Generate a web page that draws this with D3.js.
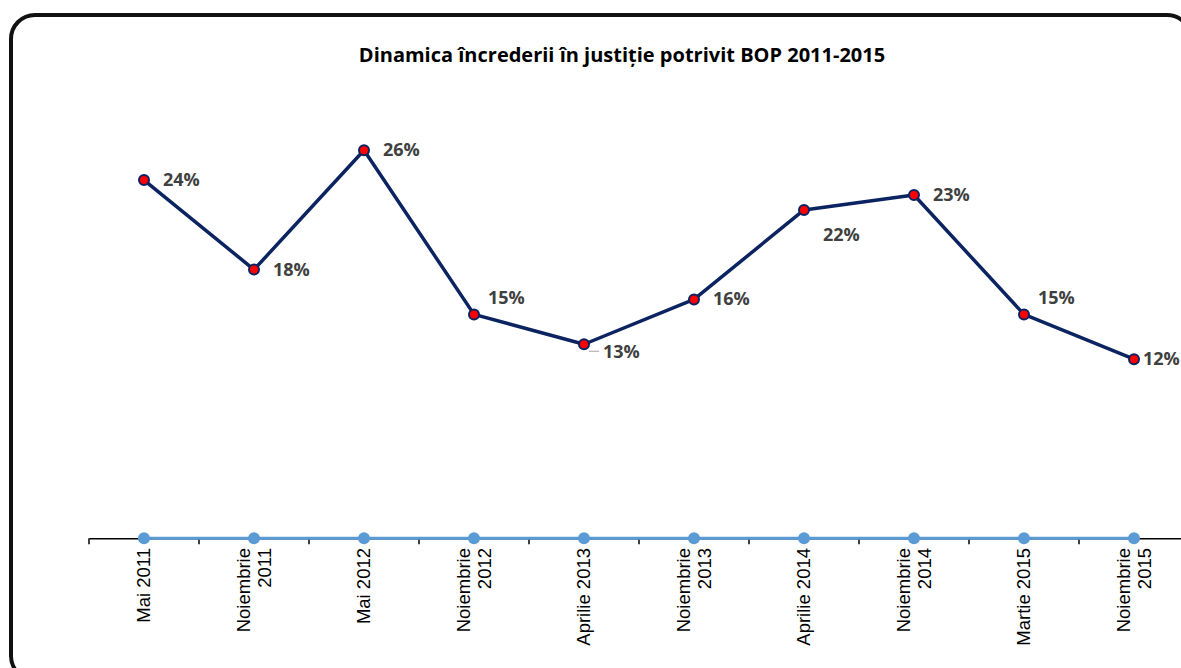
<!DOCTYPE html>
<html>
<head>
<meta charset="utf-8">
<script src="https://cdn.jsdelivr.net/npm/d3@7"></script>
<style>
  body { margin: 0; background: #fff; }
</style>
</head>
<body>
<div id="chart"></div>
<script>
// DATA
const categories = [
  ["Mai 2011"], ["Noiembrie", "2011"], ["Mai 2012"], ["Noiembrie", "2012"], ["Aprilie 2013"],
  ["Noiembrie", "2013"], ["Aprilie 2014"], ["Noiembrie", "2014"], ["Martie 2015"], ["Noiembrie", "2015"]
];
const incredere = [0.24, 0.18, 0.26, 0.15, 0.13, 0.16, 0.22, 0.23, 0.15, 0.12];
const serie2 = [0, 0, 0, 0, 0, 0, 0, 0, 0, 0];
const labelPos = ["right", "right", "right", "above", "below", "right", "below", "right", "above", "right"];

const width = 1181, height = 668;
const keys = categories.map(c => c.join(" "));

const svg = d3.select("#chart").append("svg")
  .attr("width", width)
  .attr("height", height);

// frame
svg.append("rect")
  .attr("x", 11).attr("y", 15)
  .attr("width", 1180).attr("height", 665)
  .attr("rx", 24)
  .attr("fill", "none")
  .attr("stroke", "#111")
  .attr("stroke-width", 4);

// title
svg.append("text")
  .attr("x", 622).attr("y", 62)
  .attr("text-anchor", "middle")
  .style("font-family", "'Open Sans', sans-serif")
  .style("font-size", "20px")
  .style("font-weight", "bold")
  .text("Dinamica încrederii în justiție potrivit BOP 2011-2015");

// SCALES
const x = d3.scaleBand().domain(keys).range([89, 1189]);
const y = d3.scaleLinear().domain([0, 0.30]).range([538.3, 90.5]);
const cx = (d, i) => x(keys[i]) + x.bandwidth() / 2;

// AXIS
const xAxis = d3.axisBottom(x).tickSize(0).tickFormat("");
const axisG = svg.append("g")
  .attr("transform", `translate(0, ${y(0)})`)
  .call(xAxis);
axisG.select(".domain").attr("stroke", "#000").attr("stroke-width", 1.5);

// tick marks between categories
svg.selectAll("line.tick")
  .data(d3.range(keys.length + 1))
  .join("line")
  .attr("class", "tick")
  .attr("x1", i => 89 + i * x.step())
  .attr("x2", i => 89 + i * x.step())
  .attr("y1", y(0))
  .attr("y2", y(0) + 6)
  .attr("stroke", "#000")
  .attr("stroke-width", 1.5);

// category labels (rotated)
const catG = svg.selectAll("g.cat")
  .data(categories)
  .join("g")
  .attr("class", "cat")
  .attr("transform", (d, i) => `translate(${cx(d, i)}, 548) rotate(-90)`);

catG.each(function(lines) {
  const g = d3.select(this);
  const n = lines.length;
  lines.forEach((t, j) => {
    g.append("text")
      .attr("x", 0)
      .attr("y", (j - (n - 1) / 2) * 21 + 6)
      .attr("text-anchor", "end")
      .style("font-family", "'Liberation Sans', Arial, sans-serif")
      .style("font-size", "18.5px")
      .style("fill", "#000")
      .text(t);
  });
});

// second series (zero line)
const line0 = d3.line().x((d, i) => cx(d, i)).y(d => y(d));
svg.append("path")
  .datum(serie2)
  .attr("d", line0)
  .attr("fill", "none")
  .attr("stroke", "#5b9bd5")
  .attr("stroke-width", 3);
svg.selectAll("circle.s2")
  .data(serie2)
  .join("circle")
  .attr("class", "s2")
  .attr("cx", cx)
  .attr("cy", d => y(d))
  .attr("r", 6)
  .attr("fill", "#5b9bd5");

// main series
const line = d3.line().x((d, i) => cx(d, i)).y(d => y(d));
svg.append("path")
  .datum(incredere)
  .attr("d", line)
  .attr("fill", "none")
  .attr("stroke", "#0b2360")
  .attr("stroke-width", 3.5)
  .attr("stroke-linejoin", "round");

// leader line for 13%
svg.append("line")
  .attr("x1", cx(0, 4) + 5).attr("x2", cx(0, 4) + 15)
  .attr("y1", y(incredere[4]) + 7).attr("y2", y(incredere[4]) + 7)
  .attr("stroke", "#a6a6a6").attr("stroke-width", 1);

svg.selectAll("circle.s1")
  .data(incredere)
  .join("circle")
  .attr("class", "s1")
  .attr("cx", cx)
  .attr("cy", d => y(d))
  .attr("r", 5)
  .attr("fill", "#ff0000")
  .attr("stroke", "#0b2360")
  .attr("stroke-width", 2);

// data labels
const off = {
  right: [19, 6],
  above: [14, -10],
  below: [19, 14]
};
svg.selectAll("text.lbl")
  .data(incredere)
  .join("text")
  .attr("class", "lbl")
  .attr("x", (d, i) => cx(d, i) + (i === 9 ? 9 : off[labelPos[i]][0]))
  .attr("y", (d, i) => y(d) + (labelPos[i] === "below" && i === 6 ? 31 : off[labelPos[i]][1]))
  .style("font-family", "'Open Sans', sans-serif")
  .style("font-size", "18px")
  .style("font-weight", "bold")
  .style("fill", "#404040")
  .text(d => d3.format(".0%")(d));
</script>
</body>
</html>
